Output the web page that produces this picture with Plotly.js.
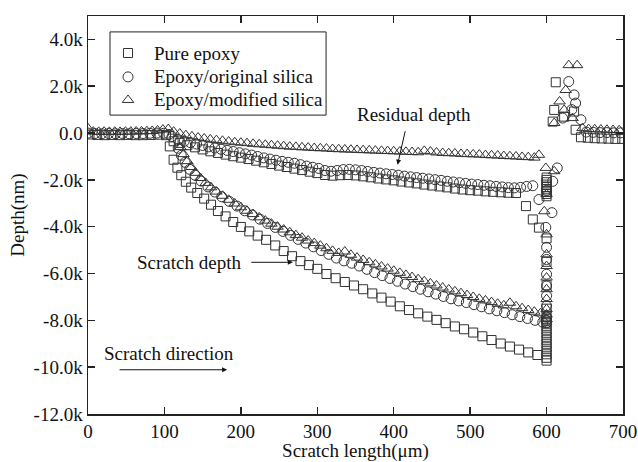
<!DOCTYPE html>
<html>
<head>
<meta charset="utf-8">
<script src="https://cdn.plot.ly/plotly-3.0.1.min.js"></script>
<style>html,body{margin:0;padding:0;background:#fff;}#chart{width:638px;height:462px;}</style>
</head>
<body>
<div id="chart"></div>
<script>
// ---------- Pure epoxy (squares) ----------
const pureBaseX = [2,12,22,32,42,52,62,72,82,92,102];
const pureBaseY = [-60,-80,-90,-80,-90,-80,-90,-90,-80,-70,-90];
const pureScratchX = [107,112,117,122,128,135,143,152,161,170,180,190,200,211,222,233,245,256,267,278,289,300,312,324,336,348,360,372,384,396,408,420,432,444,456,468,480,492,504,516,528,540,552,564,576,588];
const pureScratchY = [-570,-1140,-1480,-1800,-2080,-2330,-2560,-2800,-3060,-3330,-3560,-3800,-4010,-4200,-4380,-4560,-4800,-5040,-5260,-5470,-5640,-5800,-6020,-6200,-6360,-6510,-6670,-6850,-7030,-7200,-7400,-7560,-7700,-7840,-7980,-8120,-8260,-8380,-8520,-8680,-8840,-8990,-9120,-9250,-9370,-9480];
const pureResidualX = [112,120,130,140,150,160,170,180,190,200,210,220,230,240,250,260,270,280,290,300,310,320,330,340,350,360,370,380,390,400,410,420,430,440,450,460,470,480,490,500,510,520,530,540,550,560,573,582,590];
const pureResidualY = [-350,-420,-520,-610,-700,-780,-850,-920,-990,-1050,-1110,-1180,-1250,-1320,-1390,-1450,-1520,-1580,-1650,-1710,-1790,-1820,-1800,-1790,-1810,-1850,-1890,-1940,-1980,-2020,-2070,-2110,-2150,-2200,-2240,-2280,-2320,-2370,-2410,-2440,-2460,-2490,-2510,-2530,-2550,-2560,-3120,-3690,-4040];
const pureEdgeX = [600,600,600,600,600,600,600,600,600,600,600,600,600,600,600,600,600,600,600,600,600,600,600,600,600,600,600];
const pureEdgeY = [-1900,-2000,-2100,-2200,-2300,-2400,-2500,-2600,-2700,-4500,-5500,-6500,-7500,-7800,-7950,-8100,-8250,-8400,-8550,-8700,-8850,-9000,-9150,-9300,-9450,-9600,-9720];
const pureEndX = [612,610,608,623,636,638,645,654,663,672,681,690,699];
const pureEndY = [2170,990,490,700,920,140,-180,-200,-220,-230,-240,-250,-250];

// ---------- Epoxy/original silica (circles) ----------
const origBaseX = [0,9,18,27,36,45,54,63,72,81,90,99,106];
const origBaseY = [0,-20,-30,-20,-30,-20,-30,-20,-20,-10,0,-10,-60];
const origScratchX = [118,122,127,133,140,148,157,166,175,185,195,205,215,225,235,245,255,265,275,285,295,305,315,325,335,345,355,365,375,385,395,405,415,425,435,445,455,465,475,485,495,505,515,525,535,545,555,565,575,585,595];
const origScratchY = [-650,-950,-1250,-1550,-1800,-2050,-2300,-2520,-2720,-2920,-3120,-3320,-3500,-3680,-3860,-4030,-4200,-4370,-4540,-4700,-4860,-5020,-5180,-5340,-5460,-5560,-5680,-5820,-5960,-6090,-6210,-6330,-6450,-6560,-6670,-6780,-6880,-6980,-7080,-7170,-7240,-7330,-7420,-7510,-7590,-7670,-7760,-7840,-7920,-8000,-8080];
const origResidualX = [110,118,126,134,142,150,158,166,174,182,190,198,206,214,222,230,238,246,254,262,270,278,286,294,302,310,318,326,334,342,350,358,366,374,382,390,398,406,414,422,430,438,446,454,462,470,478,486,494,502,510,518,526,534,542,550,558,566,574,582];
const origResidualY = [-150,-280,-350,-410,-470,-530,-590,-640,-690,-740,-790,-840,-890,-940,-1000,-1060,-1110,-1160,-1210,-1250,-1290,-1350,-1410,-1460,-1510,-1600,-1630,-1600,-1560,-1550,-1570,-1600,-1640,-1680,-1710,-1740,-1770,-1800,-1840,-1870,-1900,-1930,-1960,-1990,-2020,-2060,-2090,-2120,-2150,-2180,-2200,-2230,-2250,-2280,-2300,-2330,-2340,-2320,-2280,-2250];
const origEdgeX = [614,608,590,607,599,600,600,600,600,600,600,600,600,600,600];
const origEdgeY = [-1490,-2060,-2840,-3400,-4030,-4880,-5400,-6030,-6530,-6950,-7380,-7860,-8000,-8100,-2450];
const origEndX = [629,636,638,621,645,633,652,661,670,679,688,697];
const origEndY = [2200,1630,1280,640,570,1000,40,30,20,20,10,10];

// ---------- Epoxy/modified silica (triangles) ----------
const modBaseX = [0,7,14,21,28,35,42,49,56,63,70,77,84,91,98,105];
const modBaseY = [200,60,50,60,50,60,50,60,60,70,70,80,90,110,150,170];
const modScratchX = [121,125,130,135,141,147,154,161,168,176,184,192,200,208,216,224,232,240,248,256,264,272,280,288,296,304,312,320,328,336,344,352,360,368,376,384,392,400,408,416,424,432,440,448,456,464,472,480,488,496,504,512,520,528,536,544,552,560,568,576,584,592];
const modScratchY = [-600,-900,-1200,-1450,-1700,-1920,-2130,-2320,-2500,-2680,-2850,-3010,-3170,-3320,-3460,-3600,-3740,-3870,-4000,-4120,-4240,-4360,-4470,-4590,-4700,-4810,-4920,-5030,-5120,-5060,-5200,-5320,-5420,-5520,-5610,-5700,-5790,-5880,-5970,-6060,-6150,-6240,-6330,-6420,-6510,-6600,-6680,-6760,-6840,-6920,-7000,-7080,-7150,-7220,-7290,-7360,-7250,-7400,-7480,-7560,-7630,-7700];
const modResidualX = [112,120,128,136,144,152,160,168,176,184,192,200,208,216,224,232,240,248,256,264,272,280,288,296,304,312,320,328,336,344,352,360,368,376,384,392,400,408,416,424,432,440,448,456,464,472,480,488,496,504,512,520,528,536,544,552,560,568,576,584,590];
const modResidualY = [60,-20,-90,-140,-190,-230,-270,-300,-330,-360,-390,-410,-430,-460,-480,-500,-520,-540,-560,-580,-590,-610,-620,-640,-650,-660,-680,-690,-700,-710,-720,-730,-740,-750,-760,-770,-780,-790,-800,-810,-820,-760,-790,-830,-850,-860,-870,-890,-900,-910,-920,-940,-950,-960,-980,-990,-1000,-1020,-1030,-1050,-930];
const modEdgeX = [599,610,600,597,600,600,600,600,600,600,600,600,600];
const modEdgeY = [-1490,-1630,-2600,-3340,-4330,-5180,-5680,-6170,-6670,-7090,-7520,-7750,-7950];
const modEndX = [629,640,625,617,623,610,634,647,655,663,671,679,687,695];
const modEndY = [2900,2900,1840,1350,990,430,640,210,170,160,150,140,130,120];

const seriesNames = ['Pure epoxy','Epoxy/original silica','Epoxy/modified silica'];
const seriesSymbols = ['square-open','circle-open','triangle-up-open'];
const seriesSizes = [9, 10, 10];
const yTickVals = [-12000,-10000,-8000,-6000,-4000,-2000,0,2000,4000];
const yTickText = ['-12.0k','-10.0k','-8.0k','-6.0k','-4.0k','-2.0k','0.0','2.0k','4.0k'];
const xTickVals = [0,100,200,300,400,500,600,700];

const cat = (...a) => [].concat(...a);
const FONT = 'Liberation Serif, Times New Roman, serif';
const MCOL = '#333';
const mk = (i) => ({symbol: seriesSymbols[i], size: seriesSizes[i], color: MCOL, line: {color: MCOL, width: 1}});

const traces = [
  {x: cat(pureBaseX,pureScratchX,pureResidualX,pureEdgeX,pureEndX), y: cat(pureBaseY,pureScratchY,pureResidualY,pureEdgeY,pureEndY),
   name: seriesNames[0], mode: 'markers', type: 'scatter', marker: mk(0), showlegend: false},
  {x: cat(origBaseX,origScratchX,origResidualX,origEdgeX,origEndX), y: cat(origBaseY,origScratchY,origResidualY,origEdgeY,origEndY),
   name: seriesNames[1], mode: 'markers', type: 'scatter', marker: mk(1), showlegend: false},
  {x: cat(modBaseX,modScratchX,modResidualX,modEdgeX,modEndX), y: cat(modBaseY,modScratchY,modResidualY,modEdgeY,modEndY),
   name: seriesNames[2], mode: 'markers', type: 'scatter', marker: mk(2), showlegend: false}
];

// Legend (drawn inside the plot frame on a hidden overlay axis, paper-fraction units)
const legendRowsY = [0.907, 0.847, 0.789];
const legendSymX = 0.0748, legendTextX = 0.1196;
seriesNames.forEach((n, i) => {
  traces.push({x: [legendSymX], y: [legendRowsY[i]], xaxis: 'x2', yaxis: 'y2', mode: 'markers', type: 'scatter',
    marker: mk(i), showlegend: false, hoverinfo: 'skip', cliponaxis: false});
});

const axisCommon = {showline: true, linecolor: '#222', linewidth: 1.5, mirror: 'ticks', ticks: 'inside', ticklen: 7,
  tickwidth: 1.5, tickcolor: '#222', showgrid: false, zeroline: false, tickfont: {family: FONT, size: 19, color: '#111'}};

const annFont = {family: FONT, size: 19, color: '#111'};
const annotations = [
  {x: 426.6, y: 780, xref: 'x', yref: 'y', text: 'Residual depth', showarrow: false, font: annFont},
  {x: 405, y: -1350, xref: 'x', yref: 'y', text: '', showarrow: true, ax: 8, ay: -35, arrowhead: 2, arrowsize: 1, arrowwidth: 1, arrowcolor: '#111'},
  {x: 131.6, y: -5520, xref: 'x', yref: 'y', text: 'Scratch depth', showarrow: false, font: annFont},
  {x: 268, y: -5520, xref: 'x', yref: 'y', text: '', showarrow: true, ax: -43, ay: 0, arrowhead: 2, arrowsize: 1, arrowwidth: 1, arrowcolor: '#111'},
  {x: 106, y: -9415, xref: 'x', yref: 'y', text: 'Scratch direction', showarrow: false, font: annFont},
  {x: 182, y: -10110, xref: 'x', yref: 'y', text: '', showarrow: true, ax: -109, ay: 0, arrowhead: 2, arrowsize: 1, arrowwidth: 1, arrowcolor: '#111'}
];
seriesNames.forEach((n, i) => {
  annotations.push({x: legendTextX, y: legendRowsY[i], xref: 'paper', yref: 'paper', xanchor: 'left', yanchor: 'middle',
    text: n, showarrow: false, font: annFont});
});

const layout = {
  width: 638, height: 462,
  margin: {l: 88, r: 15, t: 16, b: 48},
  paper_bgcolor: '#fff', plot_bgcolor: '#fff',
  font: {family: FONT, size: 19, color: '#111'},
  showlegend: false,
  xaxis: Object.assign({}, axisCommon, {range: [0, 700], tickvals: xTickVals,
    title: {text: 'Scratch length(μm)', font: {family: FONT, size: 19, color: '#111'}, standoff: 6}}),
  yaxis: Object.assign({}, axisCommon, {range: [-12000, 5000], tickvals: yTickVals, ticktext: yTickText,
    title: {text: 'Depth(nm)', font: {family: FONT, size: 19, color: '#111'}, standoff: 4}}),
  xaxis2: {overlaying: 'x', range: [0, 1], visible: false, fixedrange: true},
  yaxis2: {overlaying: 'y', range: [0, 1], visible: false, fixedrange: true},
  shapes: [
    {type: 'rect', xref: 'paper', yref: 'paper', x0: 0.0411, x1: 0.445, y0: 0.751, y1: 0.960,
     line: {color: '#222', width: 1}, fillcolor: 'rgba(0,0,0,0)', layer: 'above'}
  ],
  annotations: annotations
};

Plotly.newPlot('chart', traces, layout, {displayModeBar: false, staticPlot: true});
</script>
</body>
</html>
